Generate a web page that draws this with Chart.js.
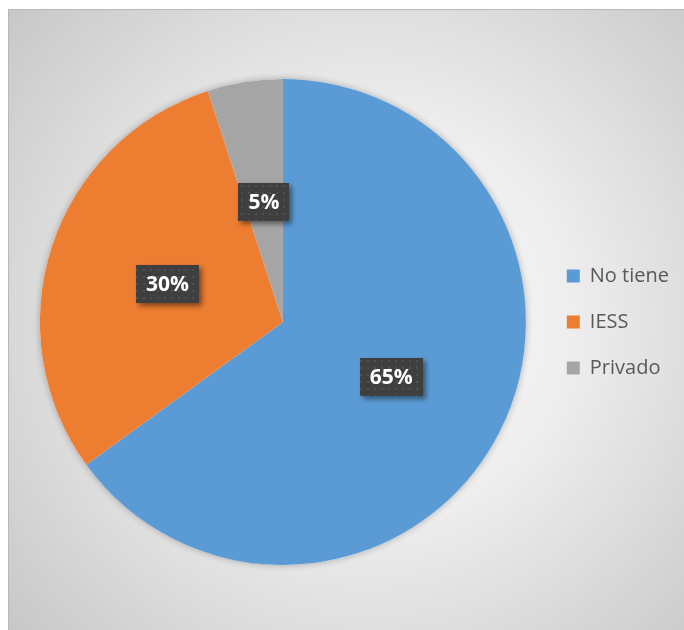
<!DOCTYPE html>
<html>
<head>
<meta charset="utf-8">
<script src="https://cdn.jsdelivr.net/npm/chart.js@4/dist/chart.umd.min.js"></script>
<style>
  html, body { margin: 0; padding: 0; background: #ffffff; }
  #wrap { width: 684px; height: 630px; }
</style>
</head>
<body>
<div id="wrap"><canvas id="chart" width="684" height="630"></canvas></div>
<script>
// Tipo de seguro de salud
const categories = ['No tiene', 'IESS', 'Privado'];
const percentages = [65, 30, 5];
const sliceColors = ['#5B9BD5', '#ED7D31', '#A5A5A5'];

// Frame with a soft radial gray background
const framePlugin = {
  id: 'frame',
  beforeDraw(chart) {
    const ctx = chart.ctx;
    ctx.save();
    ctx.fillStyle = '#ffffff';
    ctx.fillRect(0, 0, chart.width, chart.height);
    const g = ctx.createRadialGradient(370, 320, 0, 370, 320, 500);
    g.addColorStop(0, '#fbfbfb');
    g.addColorStop(0.4, '#eeeeee');
    g.addColorStop(0.7, '#d9d9d9');
    g.addColorStop(1, '#c4c4c4');
    ctx.fillStyle = g;
    ctx.fillRect(8, 9, chart.width, chart.height);
    ctx.strokeStyle = '#b8b8b8';
    ctx.lineWidth = 1;
    ctx.strokeRect(8.5, 9.5, chart.width + 10, chart.height + 10);
    ctx.restore();
  }
};

// Soft shadow under the whole pie
const pieShadowPlugin = {
  id: 'pieShadow',
  beforeDatasetsDraw(chart) {
    const arc = chart.getDatasetMeta(0).data[0];
    if (!arc) return;
    const ctx = chart.ctx;
    ctx.save();
    ctx.shadowColor = 'rgba(0,0,0,0.28)';
    ctx.shadowBlur = 7;
    ctx.fillStyle = '#ffffff';
    ctx.beginPath();
    ctx.arc(arc.x, arc.y, arc.outerRadius, 0, Math.PI * 2);
    ctx.fill();
    ctx.restore();
  }
};

// Dark dotted callout boxes with the percentage of each slice
function makeDotPattern(ctx) {
  const p = document.createElement('canvas');
  p.width = 7; p.height = 7;
  const pc = p.getContext('2d');
  pc.fillStyle = '#3f3f3f';
  pc.fillRect(0, 0, 7, 7);
  pc.fillStyle = '#505050';
  pc.fillRect(3, 3, 2, 2);
  return ctx.createPattern(p, 'repeat');
}

const valueLabelPlugin = {
  id: 'valueLabels',
  afterDatasetsDraw(chart) {
    const ctx = chart.ctx;
    const meta = chart.getDatasetMeta(0);
    const pattern = makeDotPattern(ctx);
    ctx.save();
    ctx.font = 'bold 21px "Open Sans"';
    ctx.textAlign = 'center';
    ctx.textBaseline = 'middle';
    meta.data.forEach((arc, i) => {
      const pos = arc.tooltipPosition();
      const text = chart.data.datasets[0].data[i] + '%';
      const tw = ctx.measureText(text).width;
      const w = Math.round(tw + 20);
      const h = 38;
      const x = Math.round(pos.x - w / 2);
      const y = Math.round(pos.y - h / 2);
      ctx.save();
      ctx.shadowColor = 'rgba(0,0,0,0.45)';
      ctx.shadowBlur = 5;
      ctx.shadowOffsetX = 3;
      ctx.shadowOffsetY = 3;
      ctx.fillStyle = '#3f3f3f';
      ctx.fillRect(x, y, w, h);
      ctx.restore();
      ctx.fillStyle = pattern;
      ctx.fillRect(x, y, w, h);
      ctx.fillStyle = '#ffffff';
      ctx.fillText(text, pos.x, pos.y + 1);
    });
    ctx.restore();
  }
};

new Chart(document.getElementById('chart'), {
  type: 'pie',
  data: {
    labels: categories,
    datasets: [{
      data: percentages,
      backgroundColor: sliceColors,
      borderWidth: 0
    }]
  },
  options: {
    responsive: false,
    devicePixelRatio: 1,
    animation: false,
    layout: { padding: { left: 25, top: 79, bottom: 65, right: 5 } },
    plugins: {
      tooltip: { enabled: false },
      legend: {
        position: 'right',
        align: 'center',
        labels: {
          boxWidth: 13,
          boxHeight: 13,
          padding: 26,
          color: '#595959',
          font: { family: '"Open Sans"', size: 20 }
        }
      }
    }
  },
  plugins: [framePlugin, pieShadowPlugin, valueLabelPlugin]
});
</script>
</body>
</html>
